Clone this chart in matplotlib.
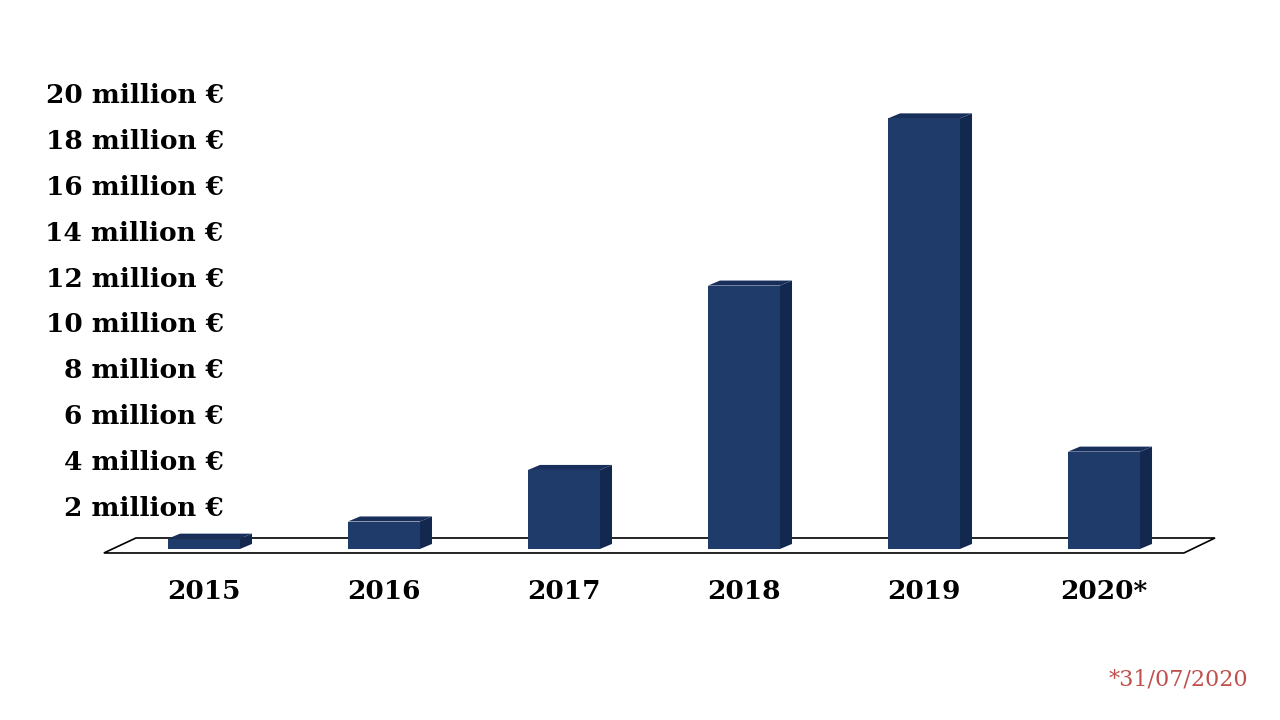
import matplotlib.pyplot as plt
from matplotlib.patches import Polygon

# values in million euro
years = ['2015', '2016', '2017', '2018', '2019', '2020*']
revenue = [0.45, 1.2, 3.45, 11.5, 18.8, 4.25]
tick_values = [2, 4, 6, 8, 10, 12, 14, 16, 18, 20]
tick_labels = ['%d million €' % v for v in tick_values]
note = '*31/07/2020'

front = '#1e3b6a'
side = '#13284f'
top = '#182f5c'

fig = plt.figure(figsize=(12.8, 7.2), dpi=100)
ax = fig.add_axes([0, 0, 1, 1])
ax.set_xlim(-1.133, 5.978)
ax.set_ylim(-7.467, 23.97)
ax.axis('off')

# floor
floor = Polygon([(-0.556, -0.175), (5.444, -0.175), (5.617, 0.48), (-0.378, 0.48)],
                closed=True, facecolor='white', edgecolor='black', lw=1.2, zorder=1)
ax.add_patch(floor)

# bars with a fake 3d look
w = 0.4
dx, dy = 0.067, 0.22
for i, v in enumerate(revenue):
    x0, x1 = i - w / 2, i + w / 2
    ax.add_patch(Polygon([(x1, 0), (x1 + dx, dy), (x1 + dx, v + dy), (x1, v)],
                         facecolor=side, edgecolor='none', zorder=2))
    ax.add_patch(Polygon([(x0, v), (x1, v), (x1 + dx, v + dy), (x0 + dx, v + dy)],
                         facecolor=top, edgecolor='none', zorder=2))
    ax.bar(i, v, width=w, bottom=0, color=front, zorder=3)
    ax.text(i, -1.85, years[i], ha='center', va='center', fontsize=19,
            fontweight='bold', family='DejaVu Serif')

for v, lab in zip(tick_values, tick_labels):
    ax.text(0.11, v - 0.22, lab, ha='right', va='center', fontsize=19,
            fontweight='bold', family='DejaVu Serif')

ax.text(5.8, -5.7, note, ha='right', va='center', fontsize=16,
        color='#c0504d', family='DejaVu Serif')

fig.savefig('out.png', dpi=100)
